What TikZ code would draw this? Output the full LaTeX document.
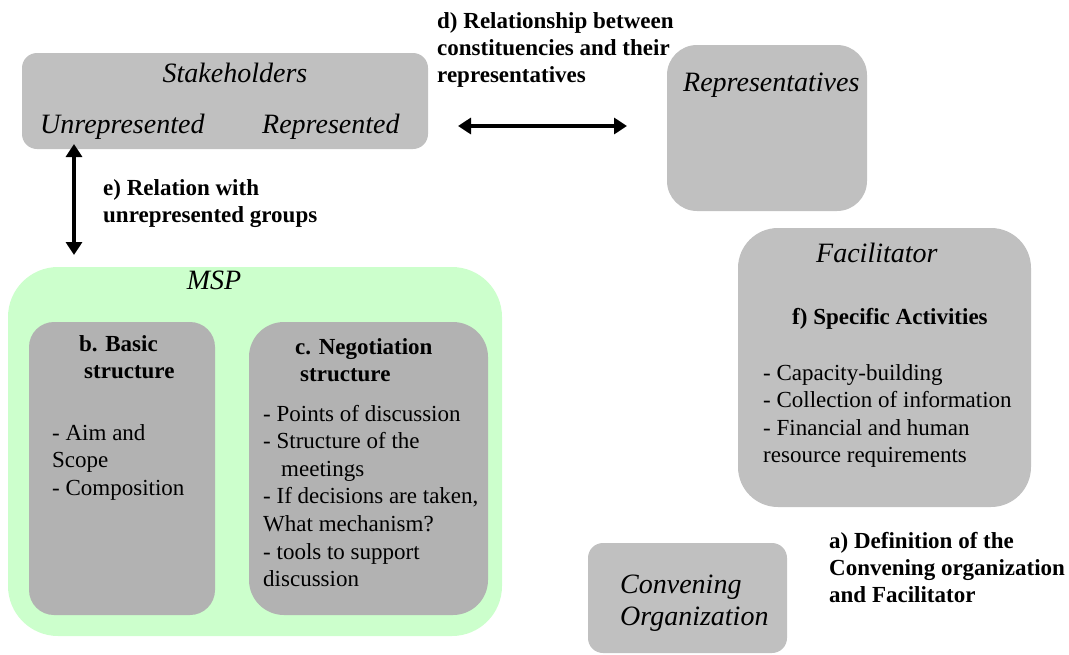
\documentclass[tikz,border=0pt]{standalone}
\usepackage{fontspec}
\setmainfont{Liberation Serif}
\usetikzlibrary{arrows.meta}
\definecolor{boxgray}{HTML}{C0C0C0}
\definecolor{darkgray2}{HTML}{B2B2B2}
\definecolor{mspgreen}{HTML}{CCFFCC}
\newcommand{\stk}[1]{\vtop{\halign{##\hfil\cr#1\crcr}}}
\tikzset{
  box/.style={rectangle, inner sep=0pt, draw=none},
  lbl/.style={anchor=base west, inner sep=0pt, font=\fontsize{28}{32}\selectfont\itshape},
  lblc/.style={anchor=base, inner sep=0pt, font=\fontsize{28}{32}\selectfont\itshape},
  bld/.style={anchor=base west, inner sep=0pt, font=\fontsize{23}{27.3}\selectfont\bfseries},
  txt/.style={anchor=base west, inner sep=0pt, font=\fontsize{23}{27.6}\selectfont},
  dbl/.style={{Triangle[length=13pt,width=16pt]}-{Triangle[length=13pt,width=16pt]}, line width=3.4pt}
}
\begin{document}
\begin{tikzpicture}[x=1pt,y=-1pt]
\useasboundingbox (0,0) rectangle (1069,654);
% boxes
\node[box, fill=boxgray, rounded corners=15pt, minimum width=406pt, minimum height=96pt] (stake) at (225,101) {};
\node[box, fill=boxgray, rounded corners=30pt, minimum width=200pt, minimum height=166pt] (rep) at (767,128) {};
\node[box, fill=boxgray, rounded corners=40pt, minimum width=293pt, minimum height=279pt] (fac) at (884.5,367.5) {};
\node[box, fill=boxgray, rounded corners=15pt, minimum width=199pt, minimum height=110pt] (conv) at (687.5,598) {};
\node[box, fill=mspgreen, rounded corners=50pt, minimum width=494pt, minimum height=369pt] (msp) at (255,451.5) {};
\node[box, fill=darkgray2, rounded corners=25pt, minimum width=186pt, minimum height=293pt] (bbox) at (122,468.5) {};
\node[box, fill=darkgray2, rounded corners=35pt, minimum width=239pt, minimum height=293pt] (cbox) at (368.5,468.5) {};
% texts
\node[lblc] (tstake) at (235,82) {Stakeholders};
\node[lbl] (tunrep) at (40,133) {Unrepresented};
\node[lbl] (trepd) at (262,133) {Represented};
\node[lbl] (trep) at (683,91) {Representatives};
\node[lbl] (tfac) at (816,262) {Facilitator};
\node[bld] (tfacf) at (792,324) {f) Specific Activities};
\node[txt] (tfacl) at (763,380) {\stk{- Capacity-building\cr- Collection of information\cr- Financial and human\cr resource requirements}};
\node[lbl] (tconv) at (620,593) {\stk{Convening\cr Organization}};
\node[bld] (ta) at (829,548) {\stk{a) Definition of the\cr Convening organization\cr and Facilitator}};
\node[lblc] (tmsp) at (214,289) {MSP};
\node[bld] (tb) at (79,351) {\stk{b. Basic\cr\hspace*{5pt}structure}};
\node[txt] (tbl) at (52,440) {\stk{- Aim and\cr Scope\cr- Composition}};
\node[bld] (tc) at (295,354) {\stk{c. Negotiation\cr\hspace*{5pt}structure}};
\node[txt] (tcl) at (263,421) {\stk{- Points of discussion\cr- Structure of the\cr\hspace*{18pt}meetings\cr- If decisions are taken,\cr What mechanism?\cr- tools to support\cr discussion}};
\node[bld] (td) at (437,28) {\stk{d) Relationship between\cr constituencies and their\cr representatives}};
\node[bld] (te) at (103,195) {\stk{e) Relation with\cr unrepresented groups}};
% arrows
\coordinate (dl) at (458,126);
\coordinate (dr) at (627,126);
\coordinate (et) at (74,144);
\coordinate (eb) at (74,255);
\draw[dbl] (dl) -- (dr);
\draw[dbl] (et) -- (eb);
\end{tikzpicture}
\end{document}
